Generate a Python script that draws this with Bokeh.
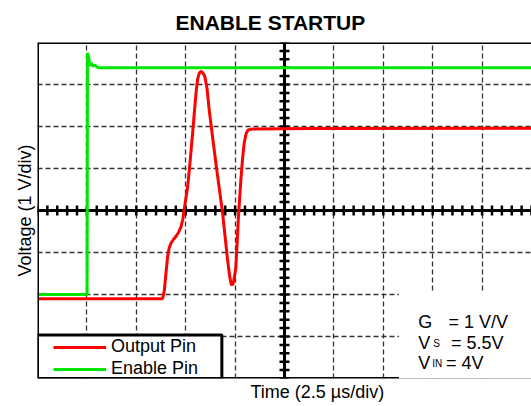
import numpy as np
from bokeh.plotting import figure
from bokeh.models import Range1d, Span, BoxAnnotation, Label, Legend, LegendItem, Title, FixedTicker
from bokeh.embed import file_html
from bokeh.resources import INLINE

# ---------------- data (time in µs, voltage in V) ----------------
out_t = [0.00, 6.33, 6.42, 6.50, 6.58, 6.66, 6.75, 6.88, 7.00, 7.13, 7.26, 7.35, 7.42,
         7.60, 7.72, 7.85, 7.94, 8.02, 8.10, 8.18, 8.25, 8.32, 8.40, 8.47, 8.58, 8.69,
         8.86, 9.03, 9.20, 9.37, 9.50, 9.62, 9.72, 9.79, 9.84, 9.90, 9.97, 10.04, 10.10,
         10.16, 10.29, 10.38, 10.46, 10.55, 10.66, 10.88, 14.00, 25.00]
out_v = [-0.10, -0.10, 0.10, 0.50, 0.88, 1.10, 1.22, 1.31, 1.38, 1.47, 1.61, 1.78, 2.01,
         2.57, 3.15, 3.84, 4.35, 4.79, 5.12, 5.26, 5.31, 5.30, 5.25, 5.19, 4.90, 4.39,
         3.75, 3.12, 2.52, 1.93, 1.35, 0.82, 0.45, 0.27, 0.22, 0.26, 0.42, 0.66, 1.20,
         1.77, 2.73, 3.25, 3.60, 3.82, 3.92, 3.94, 3.95, 3.96]
en_t = [0.00, 2.51, 2.53, 2.58, 2.63, 2.68, 2.73, 2.80, 2.90, 3.06, 3.36, 25.00]
en_v = [0.00, 0.00, 5.75, 5.68, 5.54, 5.44, 5.51, 5.44, 5.46, 5.40, 5.40, 5.40]

series_names = ["Output Pin", "Enable Pin"]
series_colors = ["#ff0000", "#00e600"]
title_text = "ENABLE STARTUP"
x_label = "Time (2.5 µs/div)"
y_label = "Voltage (1 V/div)"
info_lines = [("G", "", "= 1 V/V"), ("V", "S", "= 5.5V"), ("V", "IN", "= 4V")]

x_div, y_div = 2.5, 1.0
x_lo, x_hi = 0.0, 25.0
y_lo, y_hi = -2.0, 6.0

FONT = "Liberation Sans"

p = figure(width=531, height=406, x_range=Range1d(x_lo, x_hi), y_range=Range1d(y_lo, y_hi),
           x_axis_location=None, y_axis_location=None, output_backend="svg",
           toolbar_location=None, min_border_left=37, min_border_right=0,
           min_border_top=42, min_border_bottom=28)
p.outline_line_color = None
p.background_fill_color = "white"
p.border_fill_color = "white"

# dashed division grid
p.xgrid.ticker = FixedTicker(ticks=list(np.arange(x_lo + x_div, x_hi - 0.01, x_div)))
p.ygrid.ticker = FixedTicker(ticks=list(np.arange(y_lo + y_div, y_hi - 0.01, y_div)))
p.grid.grid_line_color = "#333333"
p.grid.grid_line_width = 1.3
p.grid.grid_line_dash = "5 3"

# centre crosshair with sub-division ticks
cx = (x_lo + x_hi) / 2
cy = (y_lo + y_hi) / 2
p.add_layout(Span(location=cx, dimension="height", line_color="black", line_width=3, level="underlay"))
p.add_layout(Span(location=cy, dimension="width", line_color="black", line_width=3, level="underlay"))
tx = list(np.arange(x_lo, x_hi + 0.001, x_div / 5))
ty = list(np.arange(y_lo, y_hi + 0.001, y_div / 5))
p.scatter(tx, [cy] * len(tx), marker="dash", angle=np.pi / 2, size=10, line_width=2.5, line_color="black")
p.scatter([cx] * len(ty), ty, marker="dash", angle=0, size=10, line_width=2.5, line_color="black")

# signals
r_out = p.line(out_t, out_v, line_color=series_colors[0], line_width=3)
r_en = p.line(en_t, en_v, line_color=series_colors[1], line_width=3)

# frame borders (left, top, bottom)
for loc, dim in [(x_lo, "height"), (y_hi, "width"), (y_lo, "width")]:
    p.add_layout(Span(location=loc, dimension=dim, line_color="black", line_width=3))

# info box (white) lower right
p.add_layout(BoxAnnotation(left=18.29, right=x_hi + 1, bottom=y_lo - 0.3, top=0.05,
                           fill_color="white", fill_alpha=1.0, line_color=None))
info_x = [19.27, 19.27, 19.27]
info_sub_x = [20.0, 20.03, 19.98]
info_eq_x = [20.80, 20.92, 20.67]
info_y = [-0.648, -1.162, -1.638]
for (main, sub, rest), xm, xs, xe, yb in zip(info_lines, info_x, info_sub_x, info_eq_x, info_y):
    p.add_layout(Label(x=xm, y=yb, text=main, text_font=FONT, text_font_size="18px",
                       text_baseline="alphabetic", text_color="black"))
    if sub:
        p.add_layout(Label(x=xs, y=yb, text=sub, text_font=FONT, text_font_size="10px",
                           text_baseline="alphabetic", text_color="black"))
    p.add_layout(Label(x=xe, y=yb, text=rest, text_font=FONT, text_font_size="18px",
                       text_baseline="alphabetic", text_color="black"))

# legend box + legend
p.add_layout(BoxAnnotation(left=x_lo, right=9.33, bottom=y_lo, top=-0.964,
                           fill_color="white", fill_alpha=1.0, line_color="black",
                           line_alpha=1.0, line_width=3))
legend = Legend(items=[LegendItem(label=series_names[0], renderers=[r_out]),
                       LegendItem(label=series_names[1], renderers=[r_en])],
                location=(16, -1), padding=2, margin=0, spacing=1,
                glyph_width=53, glyph_height=20, label_height=20, label_standoff=5,
                label_text_font=FONT, label_text_font_size="18px", label_text_color="black",
                border_line_color=None, background_fill_alpha=0)
p.add_layout(legend)

# titles
p.title.text = title_text
p.title.text_font = FONT
p.title.text_font_size = "21px"
p.title.text_font_style = "bold"
p.title.text_color = "black"
p.title.align = "left"
p.title.offset = 138
p.title.standoff = 17

p.add_layout(Title(text=y_label, align="center", text_font=FONT, text_font_size="18px",
                   text_font_style="normal", text_color="black", standoff=6), "left")
p.add_layout(Title(text=x_label, align="left", offset=213, text_font=FONT, text_font_size="18px",
                   text_font_style="normal", text_color="black", standoff=3), "below")

open("out.html", "w").write(file_html(p, INLINE))
